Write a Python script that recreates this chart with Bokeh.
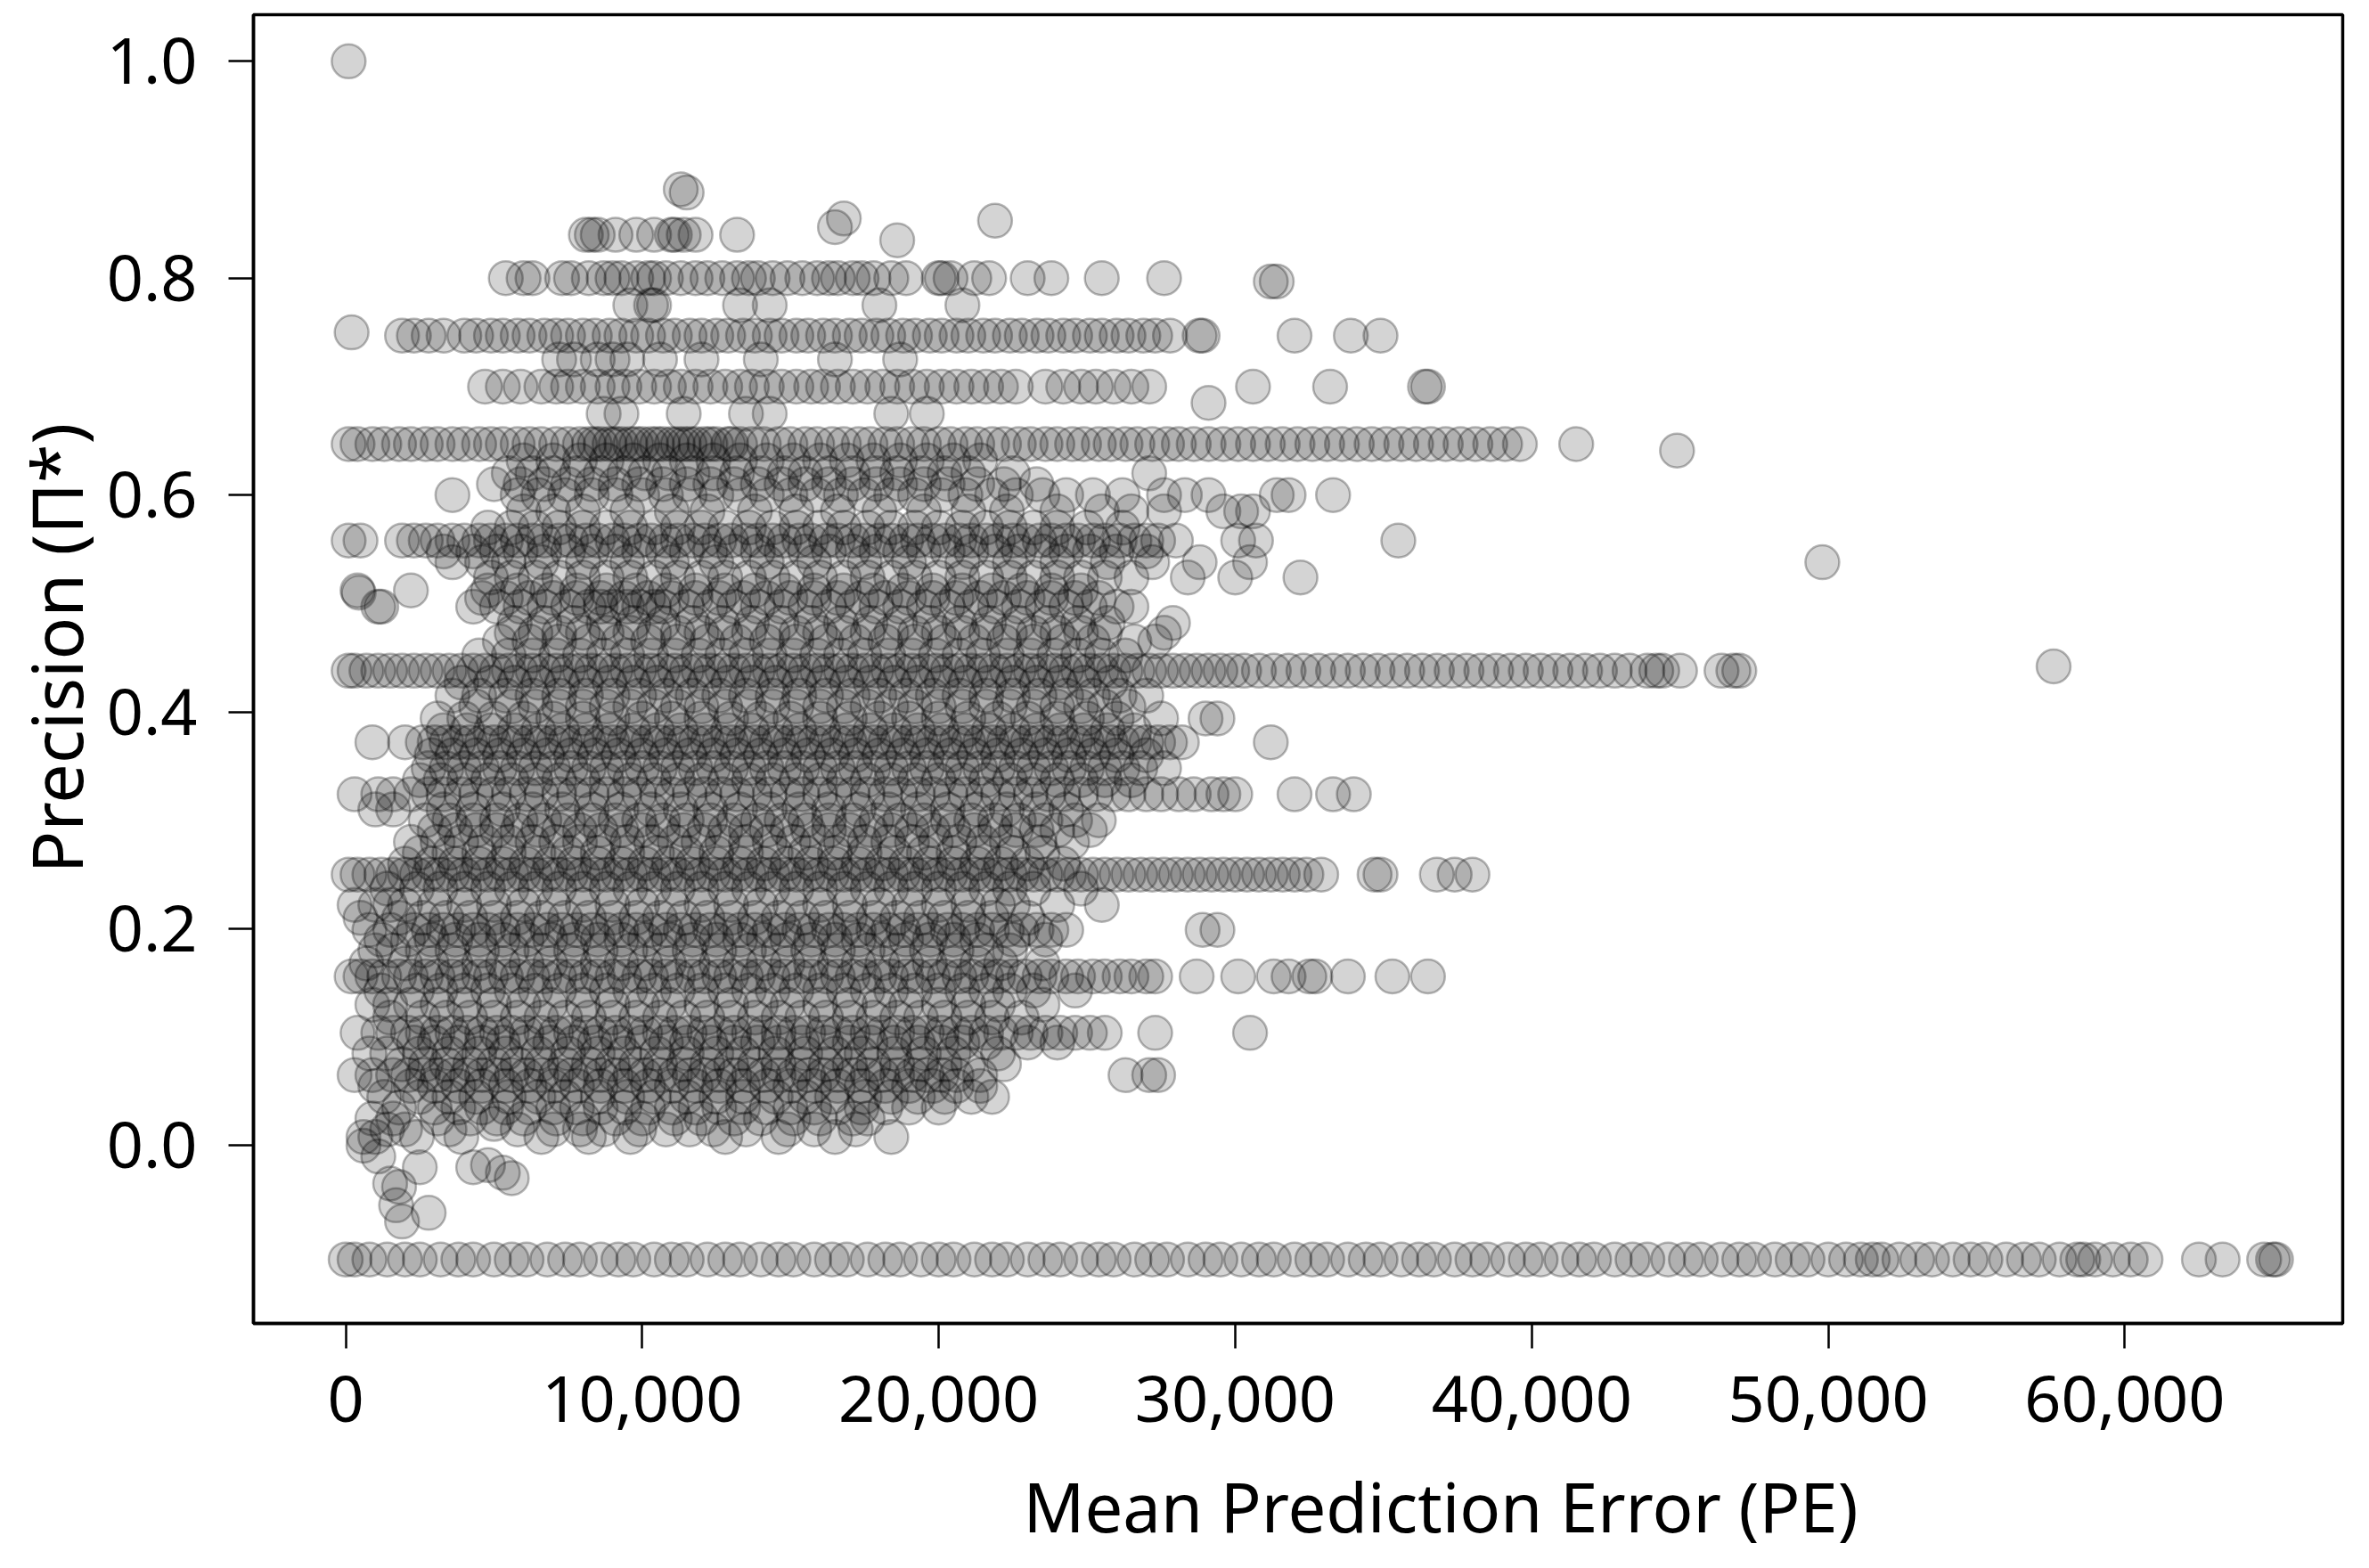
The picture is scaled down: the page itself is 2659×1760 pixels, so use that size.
import numpy as np
from bokeh.plotting import figure
from bokeh.models import FixedTicker, NumeralTickFormatter, ColumnDataSource, Range1d, Title
from bokeh.embed import file_html
from bokeh.resources import INLINE

# ---- data: mean prediction error (thousands) per precision level ----
pe_m0105 = [0.0,0.3,0.8,1.4,2.0,2.5,3.2,3.8,4.3,5.0,5.6,6.1,6.8,7.4,7.9,8.6,9.2,9.7,10.4,11.0,11.5,12.2,12.8,13.3,14.0,14.6,15.1,15.8,16.4,16.9,17.6,18.2,18.7,19.4,20.0,20.5,21.2,21.8,22.3,23.0,23.6,24.1,24.8,25.4,25.9,26.6,27.2,27.7,28.4,29.0,29.5,30.2,30.8,31.3,32.0,32.6,33.1,33.8,34.4,34.9,35.6,36.2,36.7,37.4,38.0,38.5,39.2,39.8,40.3,41.0,41.6,42.1,42.8,43.4,43.9,44.6,45.2,45.7,46.4,47.0,47.5,48.2,48.8,49.3,50.0,50.6,51.1,51.5,51.8,52.4,53.0,53.5,54.2,54.8,55.3,56.0,56.6,57.1,57.8,58.4,58.6,59.0,59.6,60.2,60.7,62.5,63.3,64.7,65.0,65.1]
pe_0008 = [0.6,1.0,2.4,3.9,6.6,8.2,9.6,12.8,14.6,16.5,18.4]
pe_0015 = [1.4,2.0,3.5,5.8,7.0,7.9,8.7,9.9,10.8,11.6,12.4,13.5,14.9,15.8,17.2]
pe_0025 = [0.9,1.6,3.1,4.2,5.1,6.0,7.1,8.0,9.1,10.0,11.1,12.0,13.1,14.0,15.1,16.0,17.1,17.6]
pe_0035 = [1.8,3.0,3.8,4.6,5.4,6.2,7.0,7.8,8.6,9.4,10.2,11.0,11.8,12.6,13.4,14.2,15.0,15.8,16.6,17.4,18.2,19.0,20.0]
pe_0045 = [1.3,2.5,3.5,4.4,5.5,6.5,7.4,8.5,9.5,10.4,11.5,12.5,13.4,14.5,15.5,16.4,17.5,18.4,19.3,20.2,21.1,21.8]
pe_0055 = [1.0,2.2,3.0,3.8,4.6,5.4,6.2,7.0,7.8,8.6,9.4,10.2,11.0,11.8,12.6,13.4,14.2,15.0,15.8,16.6,17.4,18.2,19.0,19.8,20.6,21.4]
pe_0065 = [0.3,0.9,1.6,2.1,2.6,3.1,3.6,4.1,4.6,5.1,5.6,6.1,6.6,7.1,7.6,8.1,8.6,9.1,9.6,10.1,10.6,11.1,11.6,12.1,12.6,13.1,13.6,14.1,14.6,15.1,15.6,16.1,16.6,17.1,17.6,18.1,18.6,19.1,19.6,20.1,20.6,21.4,26.3,27.1,27.4]
pe_0075 = [1.9,2.7,3.4,4.2,5.0,5.8,6.6,7.4,8.2,9.0,9.8,10.6,11.4,12.2,13.0,13.8,14.6,15.4,16.2,17.0,17.8,18.6,19.4,20.2,21.0,22.2]
pe_0085 = [0.8,1.4,2.5,3.5,4.5,5.4,6.5,7.5,8.5,9.4,10.5,11.5,12.5,13.4,14.5,15.5,16.5,17.4,18.5,19.5,20.5,22.0]
pe_0095 = [2.3,3.0,3.8,4.6,5.3,6.1,6.9,7.7,8.4,9.2,10.0,10.8,11.5,12.3,13.1,13.9,14.6,15.4,16.2,17.0,17.7,18.5,19.3,20.1,20.8,21.6,23.0,24.0]
pe_0105 = [0.4,1.1,1.6,2.1,2.6,3.1,3.6,4.1,4.6,5.1,5.6,6.1,6.6,7.1,7.6,8.1,8.6,9.1,9.6,10.1,10.6,11.1,11.6,12.1,12.6,13.1,13.6,14.1,14.6,15.1,15.6,16.1,16.6,17.1,17.6,18.1,18.6,19.1,19.6,20.1,20.6,21.1,21.6,22.1,22.6,23.1,23.6,24.1,24.6,25.1,25.6,27.3,30.5]
pe_0118 = [1.5,2.6,3.4,4.2,5.0,5.8,6.6,7.4,8.2,9.0,9.8,10.6,11.4,12.2,13.0,13.8,14.6,15.4,16.2,17.0,17.8,18.6,19.4,20.2,21.0,21.8,22.8]
pe_0130 = [0.9,1.5,2.2,3.1,4.0,5.0,6.0,6.9,8.0,9.0,10.0,10.9,12.0,13.0,14.0,14.9,16.0,17.0,18.0,18.9,20.0,21.0,22.0,23.5]
pe_0143 = [1.2,2.4,3.2,4.0,4.8,5.6,6.4,7.2,8.0,8.8,9.6,10.4,11.2,12.0,12.8,13.6,14.4,15.2,16.0,16.8,17.6,18.4,19.2,20.0,20.8,21.6,22.4,23.2,24.6]
pe_0155 = [0.2,0.5,0.9,1.3,1.8,2.2,2.7,3.1,3.6,4.0,4.5,4.9,5.4,5.8,6.3,6.7,7.2,7.6,8.1,8.5,9.0,9.4,9.9,10.3,10.8,11.2,11.7,12.1,12.6,13.0,13.5,13.9,14.4,14.8,15.3,15.7,16.2,16.6,17.1,17.5,18.0,18.4,18.9,19.3,19.8,20.2,20.7,21.1,21.6,22.0,22.5,22.9,23.4,23.8,24.3,24.7,25.2,25.6,26.1,26.5,27.0,27.3,28.7,30.1,31.3,31.8,32.5,32.7,33.8,35.3,36.5]
pe_0168 = [0.7,2.0,2.9,3.7,4.5,5.3,6.1,6.9,7.7,8.5,9.3,10.1,10.9,11.7,12.5,13.3,14.1,14.9,15.7,16.5,17.3,18.1,18.9,19.7,20.5,21.3,22.1,23.5]
pe_0180 = [1.0,1.6,2.6,3.6,4.6,5.6,6.6,7.6,8.6,9.6,10.6,11.6,12.6,13.6,14.6,15.6,16.6,17.6,18.6,19.6,20.6,21.6,22.4]
pe_0190 = [1.2,2.1,2.9,3.7,4.5,5.3,6.1,6.9,7.7,8.5,9.3,10.1,10.9,11.7,12.5,13.3,14.1,14.9,15.7,16.5,17.3,18.1,18.9,19.7,20.5,21.3,22.5,23.6]
pe_0200 = [0.8,1.5,2.3,2.8,3.3,3.8,4.3,4.8,5.3,5.8,6.3,6.8,7.3,7.8,8.3,8.8,9.3,9.8,10.3,10.8,11.3,11.8,12.3,12.8,13.3,13.8,14.3,14.8,15.3,15.8,16.3,16.8,17.3,17.8,18.3,18.8,19.3,19.8,20.3,20.8,21.3,21.8,22.3,22.8,23.3,23.8,24.3,28.9,29.4]
pe_0210 = [0.5,1.8,2.6,3.4,4.2,5.0,5.8,6.6,7.4,8.2,9.0,9.8,10.6,11.4,12.2,13.0,13.8,14.6,15.4,16.2,17.0,17.8,18.6,19.4,20.2,21.0,21.8,23.0]
pe_0222 = [0.3,1.0,1.5,2.0,3.0,4.0,5.0,6.0,7.0,8.0,9.0,10.0,11.0,12.0,13.0,14.0,15.0,16.0,17.0,18.0,19.0,20.0,21.0,22.0,22.5,24.0,25.5]
pe_0237 = [1.4,2.4,3.2,4.0,4.8,5.6,6.4,7.2,8.0,8.8,9.6,10.4,11.2,12.0,12.8,13.6,14.4,15.2,16.0,16.8,17.6,18.4,19.2,20.0,20.8,21.6,22.4,23.2,24.8]
pe_0250 = [0.1,0.4,0.8,1.2,1.6,2.0,2.4,2.8,3.2,3.6,4.0,4.4,4.8,5.2,5.6,6.0,6.4,6.8,7.2,7.6,8.0,8.4,8.8,9.2,9.6,10.0,10.4,10.8,11.2,11.6,12.0,12.4,12.8,13.2,13.6,14.0,14.4,14.8,15.2,15.6,16.0,16.4,16.8,17.2,17.6,18.0,18.4,18.8,19.2,19.6,20.0,20.4,20.8,21.2,21.6,22.0,22.4,22.8,23.2,23.6,24.0,24.4,24.8,25.2,25.6,26.0,26.4,26.8,27.2,27.6,28.0,28.4,28.8,29.2,29.6,30.0,30.4,30.8,31.2,31.6,32.0,32.4,32.9,34.7,34.9,36.8,37.4,38.0]
pe_0260 = [2.0,2.9,3.7,4.5,5.3,6.1,6.9,7.7,8.5,9.3,10.1,10.9,11.7,12.5,13.3,14.1,14.9,15.7,16.5,17.3,18.1,18.9,19.7,20.5,21.3,22.1,23.0,24.2]
pe_0270 = [2.5,3.5,4.5,5.5,6.5,7.5,8.5,9.5,10.5,11.5,12.5,13.5,14.5,15.5,16.5,17.5,18.5,19.5,20.5,21.5,22.5,23.5]
pe_0280 = [2.2,3.1,3.9,4.7,5.5,6.3,7.1,7.9,8.7,9.5,10.3,11.1,11.9,12.7,13.5,14.3,15.1,15.9,16.7,17.5,18.3,19.1,19.9,20.7,21.5,22.3,23.4,24.5]
pe_0290 = [3.0,3.7,4.4,5.1,5.8,6.5,7.2,7.9,8.6,9.3,10.0,10.7,11.4,12.1,12.8,13.5,14.2,14.9,15.6,16.3,17.0,17.7,18.4,19.1,19.8,20.5,21.2,21.9,22.6,23.3,24.0,25.1]
pe_0300 = [2.7,3.5,4.3,5.1,5.9,6.7,7.5,8.3,9.1,9.9,10.7,11.5,12.3,13.1,13.9,14.7,15.5,16.3,17.1,17.9,18.7,19.5,20.3,21.1,21.9,22.7,23.6,24.6,25.4]
pe_0310 = [1.0,1.6,3.3,4.3,5.3,6.3,7.3,8.3,9.3,10.3,11.3,12.3,13.3,14.3,15.3,16.3,17.3,18.3,19.3,20.3,21.3,22.3,23.3,24.3]
pe_0325 = [0.3,1.1,1.6,2.2,2.8,3.3,3.9,4.4,5.0,5.5,6.1,6.6,7.2,7.7,8.3,8.8,9.4,9.9,10.5,11.0,11.6,12.1,12.7,13.2,13.8,14.3,14.9,15.4,16.0,16.5,17.1,17.6,18.2,18.7,19.3,19.8,20.4,20.9,21.5,22.0,22.6,23.1,23.7,24.2,24.8,25.3,25.9,26.4,27.0,27.5,28.1,28.6,29.2,29.6,30.0,32.0,33.3,34.0]
pe_0337 = [2.5,3.2,4.0,4.8,5.6,6.4,7.2,8.0,8.8,9.6,10.4,11.2,12.0,12.8,13.6,14.4,15.2,16.0,16.8,17.6,18.4,19.2,20.0,20.8,21.6,22.4,23.2,24.0,24.8,25.6,26.5]
pe_0348 = [2.8,3.4,4.0,4.6,5.2,5.8,6.4,7.0,7.6,8.2,8.8,9.4,10.0,10.6,11.2,11.8,12.4,13.0,13.6,14.2,14.8,15.4,16.0,16.6,17.2,17.8,18.4,19.0,19.6,20.2,20.8,21.4,22.0,22.6,23.2,23.8,24.4,25.0,25.6,26.2,26.8,27.6]
pe_0360 = [2.9,3.6,4.4,5.2,6.0,6.8,7.6,8.4,9.2,10.0,10.8,11.6,12.4,13.2,14.0,14.8,15.6,16.4,17.2,18.0,18.8,19.6,20.4,21.2,22.0,22.8,23.6,24.4,25.2,26.0,27.0]
pe_0372 = [0.9,2.0,2.6,3.0,3.4,3.8,4.2,4.6,5.0,5.4,5.8,6.2,6.6,7.0,7.4,7.8,8.2,8.6,9.0,9.4,9.8,10.2,10.6,11.0,11.4,11.8,12.2,12.6,13.0,13.4,13.8,14.2,14.6,15.0,15.4,15.8,16.2,16.6,17.0,17.4,17.8,18.2,18.6,19.0,19.4,19.8,20.2,20.6,21.0,21.4,21.8,22.2,22.6,23.0,23.4,23.8,24.2,24.6,25.0,25.4,25.8,26.2,26.6,27.0,27.4,27.8,28.2,31.2]
pe_0383 = [3.3,4.1,4.9,5.7,6.5,7.3,8.1,8.9,9.7,10.5,11.3,12.1,12.9,13.7,14.5,15.3,16.1,16.9,17.7,18.5,19.3,20.1,20.9,21.7,22.5,23.3,24.1,24.9,25.7,26.6]
pe_0394 = [3.1,4.0,5.0,6.0,7.0,8.0,9.0,10.0,11.0,12.0,13.0,14.0,15.0,16.0,17.0,18.0,19.0,20.0,21.0,22.0,23.0,24.0,25.0,26.0,27.5,29.0,29.4]
pe_0405 = [4.4,5.6,6.4,7.2,8.0,8.8,9.6,10.4,11.2,12.0,12.8,13.6,14.4,15.2,16.0,16.8,17.6,18.4,19.2,20.0,20.8,21.6,22.4,23.2,24.0,24.8,25.6,26.4]
pe_0415 = [3.6,4.5,5.4,6.3,7.2,8.1,9.0,9.9,10.8,11.7,12.6,13.5,14.4,15.3,16.2,17.1,18.0,18.9,19.8,20.7,21.6,22.5,23.4,24.3,25.2,26.1,27.0]
pe_0427 = [3.9,4.9,5.7,6.5,7.3,8.1,8.9,9.7,10.5,11.3,12.1,12.9,13.7,14.5,15.3,16.1,16.9,17.7,18.5,19.3,20.1,20.9,21.7,22.5,23.3,24.1,24.9,25.8]
pe_0438 = [0.1,0.3,0.7,1.1,1.5,1.9,2.3,2.7,3.1,3.5,3.9,4.3,4.7,5.1,5.5,5.9,6.3,6.7,7.1,7.5,7.9,8.3,8.7,9.1,9.5,9.9,10.3,10.7,11.1,11.5,11.9,12.3,12.7,13.1,13.5,13.9,14.3,14.7,15.1,15.5,15.9,16.3,16.7,17.1,17.5,17.9,18.3,18.7,19.1,19.5,19.9,20.3,20.7,21.1,21.5,21.9,22.3,22.7,23.1,23.5,23.9,24.3,24.7,25.1,25.5,25.9,26.3,26.7,27.1,27.5,27.9,28.3,28.7,29.1,29.5,29.9,30.3,30.8,31.3,31.8,32.3,32.8,33.3,33.8,34.3,34.8,35.3,35.8,36.3,36.8,37.3,37.8,38.3,38.8,39.3,39.8,40.3,40.8,41.3,41.8,42.3,42.8,43.3,43.9,44.2,44.4,45.0,46.4,46.8,47.0]
pe_0452 = [4.5,5.5,6.3,7.1,7.9,8.7,9.5,10.3,11.1,11.9,12.7,13.5,14.3,15.1,15.9,16.7,17.5,18.3,19.1,19.9,20.7,21.5,22.3,23.1,23.9,24.7,25.5,26.3]
pe_0465 = [5.2,6.2,7.2,8.2,9.2,10.2,11.2,12.2,13.2,14.2,15.2,16.2,17.2,18.2,19.2,20.2,21.2,22.2,23.2,24.2,25.2,26.6,27.3]
pe_0473 = [5.6,6.4,7.2,8.0,8.8,9.6,10.4,11.2,12.0,12.8,13.6,14.4,15.2,16.0,16.8,17.6,18.4,19.2,20.0,20.8,21.6,22.4,23.2,24.0,24.8,25.6,27.6]
pe_0482 = [5.7,6.7,7.7,8.7,9.7,10.7,11.7,12.7,13.7,14.7,15.7,16.7,17.7,18.7,19.7,20.7,21.7,22.7,23.7,24.7,25.7,27.9]
pe_0497 = [1.1,1.2,4.3,5.1,5.9,6.7,7.5,8.2,8.6,9.0,9.5,9.9,10.4,10.7,11.5,12.3,13.1,13.9,14.7,15.5,16.3,17.1,17.9,18.7,19.5,20.3,21.1,21.9,22.7,23.5,24.3,25.1,26.0,26.5]
pe_0505 = [4.6,5.4,6.2,7.0,7.8,8.6,9.4,10.2,11.0,11.8,12.6,13.4,14.2,15.0,15.8,16.6,17.4,18.2,19.0,19.8,20.6,21.4,22.2,23.0,23.8,24.6,25.4]
pe_0512 = [0.4,2.2,4.8,5.8,6.8,7.8,8.8,9.8,10.8,11.8,12.8,13.8,14.8,15.8,16.8,17.8,18.8,19.8,20.8,21.8,22.8,23.8,24.8]
pe_0524 = [4.9,5.6,6.4,7.2,8.0,8.8,9.6,10.4,11.2,12.0,12.8,13.6,14.4,15.2,16.0,16.8,17.6,18.4,19.2,20.0,20.8,21.6,22.4,23.2,24.0,24.8,25.6,26.5,28.4,30.0,32.2]
pe_0538 = [3.6,4.6,5.5,6.6,8.0,9.5,11.0,12.5,14.2,15.8,17.5,19.0,20.8,22.4,24.0,25.7,27.2,28.8,30.5,49.8]
pe_0548 = [3.3,4.3,5.1,5.9,6.7,7.5,8.3,9.1,9.9,10.7,11.5,12.3,13.1,13.9,14.7,15.5,16.3,17.1,17.9,18.7,19.5,20.3,21.1,21.9,22.7,23.5,24.3,25.1,26.0,27.0]
pe_0558 = [0.1,0.5,1.9,2.3,2.7,3.1,3.6,4.0,4.5,4.9,5.4,5.8,6.3,6.7,7.2,7.6,8.1,8.5,9.0,9.4,9.9,10.3,10.8,11.2,11.7,12.1,12.6,13.0,13.5,13.9,14.4,14.8,15.3,15.7,16.2,16.6,17.1,17.5,18.0,18.4,18.9,19.3,19.8,20.2,20.7,21.1,21.6,22.0,22.5,22.9,23.4,23.8,24.3,24.7,25.2,25.6,26.1,26.6,27.0,27.4,28.0,30.1,30.7,35.5]
pe_0570 = [4.8,5.6,6.4,7.2,8.0,8.8,9.6,10.4,11.2,12.0,12.8,13.6,14.4,15.2,16.0,16.8,17.6,18.4,19.2,20.0,20.8,21.6,22.4,23.2,24.0,25.0,26.2]
pe_0585 = [6.0,7.0,8.0,9.5,11.0,12.2,13.8,15.2,16.6,18.0,19.5,21.0,22.3,24.0,25.5,26.5,27.6,29.6,30.2,30.6]
pe_0600 = [3.6,5.8,6.5,7.4,8.3,9.1,10.0,10.8,11.6,12.5,13.3,14.2,15.0,15.9,16.7,17.5,18.4,19.2,20.1,20.9,21.8,22.6,23.5,24.3,25.2,26.2,27.6,28.3,29.1,31.4,31.8,33.3]
pe_0610 = [5.0,5.9,6.7,7.5,8.3,9.1,9.9,10.7,11.5,12.3,13.1,13.9,14.7,15.5,16.3,17.1,17.9,18.7,19.5,20.3,21.3,22.2,23.3]
pe_0620 = [5.5,6.3,7.0,7.8,8.6,9.4,10.1,10.9,11.7,12.4,13.2,14.0,14.8,15.5,16.3,17.1,17.9,18.6,19.4,20.2,21.0,22.5,27.1]
pe_0632 = [6.0,7.0,7.9,8.8,9.7,10.6,11.5,12.4,13.3,14.2,15.1,16.0,16.9,17.8,18.7,19.6,20.5,21.4]
pe_0647 = [0.1,0.4,0.9,1.3,1.8,2.2,2.7,3.1,3.6,4.0,4.5,4.9,5.3,5.8,6.2,6.6,7.1,7.5,7.9,8.2,8.4,8.6,8.9,9.1,9.3,9.6,9.8,10.0,10.3,10.5,10.7,11.0,11.2,11.4,11.6,11.8,12.1,12.3,12.5,12.9,13.0,13.3,13.7,14.1,14.6,15.0,15.5,15.9,16.4,16.8,17.3,17.7,18.2,18.6,19.1,19.5,20.0,20.4,20.9,21.3,21.8,22.2,22.7,23.1,23.6,24.0,24.5,24.9,25.4,25.8,26.3,26.7,27.2,27.7,28.1,28.6,29.1,29.6,30.1,30.6,31.1,31.6,32.1,32.6,33.1,33.6,34.1,34.6,35.1,35.6,36.1,36.6,37.1,37.6,38.1,38.6,39.1,39.6,41.5]
pe_0675 = [8.7,9.3,11.4,13.5,14.3,18.4,19.6]
pe_0700 = [4.7,5.3,5.9,6.6,7.1,7.5,8.0,8.5,9.0,9.4,9.9,10.4,10.9,11.3,11.8,12.3,12.8,13.3,13.7,14.2,14.7,15.2,15.7,16.1,16.6,17.1,17.6,18.1,18.6,19.1,19.6,20.1,20.6,21.1,21.6,22.1,22.6,23.6,24.2,24.8,25.3,25.9,26.5,27.1,30.6,33.2,36.4,36.5]
pe_0725 = [7.2,7.7,8.5,9.0,9.5,10.6,12.0,14.0,16.5,18.7]
pe_0747 = [1.9,2.3,2.8,3.3,4.0,4.4,4.9,5.3,5.8,6.2,6.7,7.1,7.5,8.0,8.4,8.9,9.3,9.8,10.2,10.7,11.1,11.6,12.0,12.5,12.9,13.4,13.8,14.3,14.7,15.2,15.6,16.1,16.5,17.0,17.4,17.9,18.3,18.8,19.2,19.7,20.1,20.6,21.0,21.5,21.9,22.4,22.8,23.3,23.7,24.2,24.6,25.1,25.5,26.0,26.4,26.9,27.3,27.8,28.8,28.9,32.0,33.9,34.9]
pe_0775 = [9.6,10.3,10.4,13.3,14.3,18.0,20.8]
pe_0800 = [5.4,6.0,6.3,7.3,7.6,8.2,8.7,9.0,9.3,9.8,10.2,10.4,10.8,11.3,11.8,12.2,12.7,13.2,13.6,13.9,14.4,14.9,15.4,15.9,16.3,16.6,17.1,17.4,17.8,18.4,18.9,20.0,20.1,20.4,21.2,21.7,23.0,23.8,25.5,27.6]
pe_0840 = [8.1,8.3,8.5,9.1,9.8,10.4,11.0,11.1,11.4,11.8,13.2]

levels = [-0.105, 0.008, 0.015, 0.025, 0.035, 0.045, 0.055, 0.065, 0.075, 0.085, 0.095,
          0.104, 0.118, 0.130, 0.143, 0.156, 0.168, 0.180, 0.190, 0.199, 0.210, 0.222,
          0.237, 0.250, 0.260, 0.270, 0.280, 0.291, 0.300, 0.310, 0.324, 0.337, 0.348,
          0.360, 0.372, 0.383, 0.394, 0.405, 0.415, 0.427, 0.438, 0.452, 0.465, 0.473,
          0.482, 0.497, 0.505, 0.512, 0.524, 0.538, 0.548, 0.558, 0.570, 0.585, 0.600,
          0.610, 0.620, 0.632, 0.647, 0.675, 0.700, 0.725, 0.747, 0.775, 0.800, 0.840]

# isolated points (PE in thousands, precision)
extra_pe = [0.1, 11.3, 11.5, 16.8, 16.5, 18.6, 21.9, 31.2, 31.4, 0.2, 29.1, 44.9, 57.6,
            1.5, 1.7, 1.9, 2.8, 1.1, 4.3, 4.8, 5.3, 5.6, 2.5, 1.8, 5.0, 0.6, 0.44]
extra_prec = [1.0, 0.882, 0.879, 0.855, 0.847, 0.835, 0.853, 0.797, 0.797, 0.75, 0.685, 0.641, 0.442,
              -0.035, -0.055, -0.07, -0.062, -0.01, -0.02, -0.018, -0.025, -0.03, -0.02, -0.038, 0.02, 0.0, 0.51]

bands = [pe_m0105, pe_0008, pe_0015, pe_0025, pe_0035, pe_0045, pe_0055, pe_0065, pe_0075, pe_0085, pe_0095,
         pe_0105, pe_0118, pe_0130, pe_0143, pe_0155, pe_0168, pe_0180, pe_0190, pe_0200, pe_0210, pe_0222,
         pe_0237, pe_0250, pe_0260, pe_0270, pe_0280, pe_0290, pe_0300, pe_0310, pe_0325, pe_0337, pe_0348,
         pe_0360, pe_0372, pe_0383, pe_0394, pe_0405, pe_0415, pe_0427, pe_0438, pe_0452, pe_0465, pe_0473,
         pe_0482, pe_0497, pe_0505, pe_0512, pe_0524, pe_0538, pe_0548, pe_0558, pe_0570, pe_0585, pe_0600,
         pe_0610, pe_0620, pe_0632, pe_0647, pe_0675, pe_0700, pe_0725, pe_0747, pe_0775, pe_0800, pe_0840]

x_label_text = "Mean Prediction Error (PE)"
y_label_text = "Precision (Π*)"

xs, ys = [], []
for lev, b in zip(levels, bands):
    xs.extend([v * 1000 for v in b])
    ys.extend([lev] * len(b))
xs.extend([v * 1000 for v in extra_pe])
ys.extend(extra_prec)

source = ColumnDataSource(dict(x=xs, y=ys))

x_ticks = [0, 10000, 20000, 30000, 40000, 50000, 60000]
y_ticks = [0.0, 0.2, 0.4, 0.6, 0.8, 1.0]

p = figure(width=2640, height=1744, output_backend="svg", toolbar_location=None,
           x_range=Range1d(-3110, 67350), y_range=Range1d(-0.164, 1.043),
           min_border_left=284, min_border_right=11, min_border_top=16, min_border_bottom=255)

p.scatter("x", "y", source=source, size=38, marker="circle",
          fill_color="black", fill_alpha=0.17, line_color="black", line_alpha=0.28, line_width=2.5)

p.xgrid.visible = False
p.ygrid.visible = False
p.background_fill_color = "white"
p.border_fill_color = "white"
p.outline_line_color = "black"
p.outline_line_width = 3.5
p.outline_line_alpha = 1.0

p.xaxis.ticker = FixedTicker(ticks=x_ticks)
p.yaxis.ticker = FixedTicker(ticks=y_ticks)
p.xaxis.formatter = NumeralTickFormatter(format="0,0")
p.yaxis.formatter = NumeralTickFormatter(format="0.0")

for ax in (p.xaxis[0], p.yaxis[0]):
    ax.axis_line_width = 3.5
    ax.axis_line_color = "black"
    ax.major_tick_line_width = 2.5
    ax.major_tick_line_color = "black"
    ax.major_tick_out = 28
    ax.major_tick_in = 0
    ax.minor_tick_line_color = None
    ax.major_label_text_font = "Noto Sans"
    ax.major_label_text_font_size = "72px"
    ax.major_label_text_color = "black"

p.xaxis.major_label_standoff = 31
p.yaxis.major_label_standoff = 35
# blank spacer label on the x axis pushes the offset x title down a little
p.xaxis.axis_label = " "
p.xaxis.axis_label_text_font_size = "20px"
p.xaxis.axis_label_standoff = 14

# axis titles as side titles so they can be offset like the original
p.add_layout(Title(text=x_label_text, align="left", offset=864, vertical_align="top",
                   text_font="Noto Sans", text_font_size="76px", text_font_style="normal",
                   text_color="black", standoff=2), "below")
p.add_layout(Title(text=y_label_text, align="left", offset=505, vertical_align="bottom",
                   text_font="Noto Sans", text_font_size="79px", text_font_style="normal",
                   text_color="black", standoff=2), "left")

open("out.html", "w").write(file_html(p, INLINE))
